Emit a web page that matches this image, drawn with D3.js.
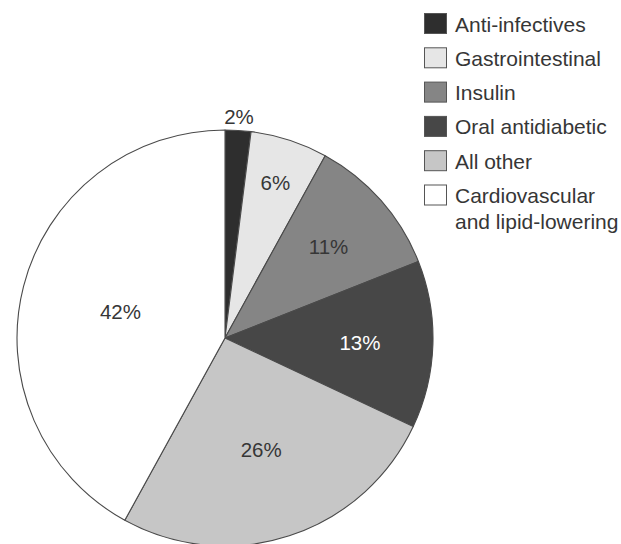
<!DOCTYPE html>
<html>
<head>
<meta charset="utf-8">
<script src="https://cdn.jsdelivr.net/npm/d3@7"></script>
<style>
  html, body { margin: 0; padding: 0; background: #fff; }
  svg { display: block; }
  text { font-family: "Liberation Sans", Arial, Helvetica, sans-serif; }
</style>
</head>
<body>
<svg id="chart" width="621" height="544"></svg>
<script>
// Market share by therapeutic class (percent), clockwise from 12 o'clock
const categories = ["Anti-infectives", "Gastrointestinal", "Insulin", "Oral antidiabetic", "All other", "Cardiovascular and lipid-lowering"];
const legendLines = [["Anti-infectives"], ["Gastrointestinal"], ["Insulin"], ["Oral antidiabetic"], ["All other"], ["Cardiovascular", "and lipid-lowering"]];
const shares = [2, 6, 11, 13, 26, 42];
const fills = ["#2e2e2e", "#e6e6e6", "#858585", "#474747", "#c6c6c6", "#ffffff"];
const labelColors = ["#363636", "#363636", "#363636", "#ffffff", "#363636", "#363636"];

// Label distance from centre, per slice
const labelRadii = [222, 163, 138, 135, 117, 108];

const svg = d3.select("#chart");
const cx = 225, cy = 338, radius = 208;

const data = categories.map((c, i) => ({ name: c, value: shares[i], i }));

const pie = d3.pie().value(d => d.value).sort(null);
const arc = d3.arc().innerRadius(0).outerRadius(radius);
const arcs = pie(data);

const g = svg.append("g").attr("transform", `translate(${cx},${cy})`);

g.selectAll("path.slice")
  .data(arcs)
  .join("path")
  .attr("class", "slice")
  .attr("d", arc)
  .attr("fill", d => fills[d.data.i])
  .attr("stroke", "#4a4a4a")
  .attr("stroke-width", 1.1)
  .attr("stroke-linejoin", "round");

g.selectAll("text.pct")
  .data(arcs)
  .join("text")
  .attr("class", "pct")
  .attr("transform", d => {
    const a = (d.startAngle + d.endAngle) / 2;
    const r = labelRadii[d.data.i];
    return `translate(${r * Math.sin(a)},${-r * Math.cos(a)})`;
  })
  .attr("text-anchor", "middle")
  .attr("dy", "0.36em")
  .attr("font-size", 20.5)
  .attr("fill", d => labelColors[d.data.i])
  .text(d => d.data.value + "%");

// Legend
const legend = svg.append("g").attr("transform", "translate(424,13)");
const rowStep = 34.3;
const rows = legend.selectAll("g.row")
  .data(data)
  .join("g")
  .attr("class", "row")
  .attr("transform", d => `translate(0,${d.i * rowStep})`);

rows.append("rect")
  .attr("x", 0.5).attr("y", 0.5)
  .attr("width", 22).attr("height", 20)
  .attr("fill", d => fills[d.i])
  .attr("stroke", "#555")
  .attr("stroke-width", 1);

rows.append("text")
  .attr("x", 31)
  .attr("y", 18.5)
  .attr("font-size", 21)
  .attr("fill", "#363636")
  .selectAll("tspan")
  .data(d => legendLines[d.i])
  .join("tspan")
  .attr("x", 31)
  .attr("dy", (t, j) => j === 0 ? 0 : 26)
  .text(t => t);
</script>
</body>
</html>
